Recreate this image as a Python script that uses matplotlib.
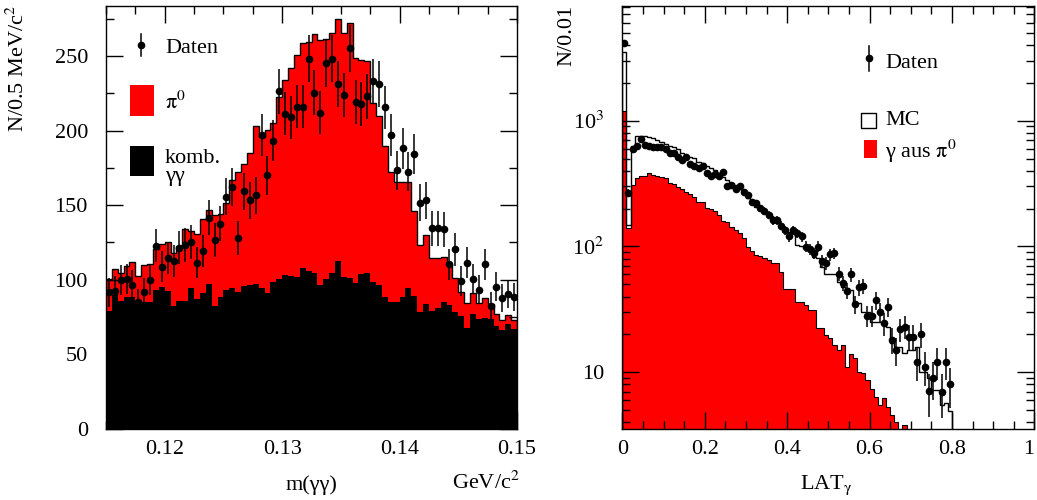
"""
pi0-Masse und LAT-Verteilung: Daten gegen MC (ROOT-Stil nachgebaut).
"""

import numpy as np
import matplotlib
matplotlib.use('Agg')
import matplotlib.pyplot as plt
from matplotlib.patches import Rectangle
from matplotlib.ticker import MultipleLocator, FixedLocator, FixedFormatter, LogLocator, NullFormatter

plt.rcParams['font.family'] = ['Liberation Serif', 'DejaVu Serif']
plt.rcParams['mathtext.fontset'] = 'stix'

# --- linkes Bild: m(gg) von 0.115 bis 0.150 GeV, 0.5 MeV Bins ---
m_lo, m_bin = 0.115, 0.0005
m_total = [100.8, 107.5, 104.4, 109.3, 112.0, 102.6, 110.0, 110.4, 120.4, 124.2,
           125.5, 117.8, 122.7, 133.8, 132.7, 130.4, 140.5, 146.5, 143.1, 144.2,
           151.6, 167.2, 172.0, 177.6, 185.0, 202.8, 195.4, 200.1, 205.0, 222.4,
           234.0, 241.7, 250.6, 258.9, 259.6, 264.5, 260.7, 261.1, 265.1, 274.5,
           265.1, 272.2, 248.9, 247.3, 246.6, 218.4, 209.9, 189.9, 172.0, 165.4,
           165.4, 165.4, 146.0, 123.3, 130.0, 114.4, 114.9, 115.5, 110.4, 101.5,
           91.5, 84.4, 91.0, 84.4, 87.7, 83.7, 77.0, 73.2, 76.4, 73.2]
m_comb = [79.0, 89.7, 85.9, 88.8, 88.8, 83.7, 84.8, 84.8, 93.0, 95.3,
          92.6, 82.6, 85.9, 85.9, 94.2, 87.0, 91.0, 97.0, 82.6, 88.2,
          93.0, 94.2, 91.5, 95.9, 96.6, 97.0, 94.6, 91.0, 98.6, 100.8,
          103.5, 102.6, 102.2, 108.2, 106.0, 104.4, 96.8, 100.8, 104.4, 112.6,
          102.2, 101.5, 97.7, 103.7, 104.8, 98.2, 96.8, 88.6, 84.8, 85.3,
          88.2, 94.8, 89.3, 78.6, 83.7, 79.2, 80.8, 84.8, 83.0, 78.1,
          75.9, 67.4, 77.0, 73.7, 74.3, 73.7, 68.8, 66.3, 70.3, 67.0]
m_data = [91.5, 92.6, 99.7, 100.4, 96.6, 84.8, 91.5, 99.7, 122.7, 108.9,
          114.6, 112.6, 121.5, 123.3, 125.3, 111.5, 119.3, 141.6, 126.7, 137.6,
          155.6, 162.5, 127.8, 159.2, 153.4, 156.5, 197.2, 170.1, 193.2, 226.2,
          211.3, 209.0, 216.1, 216.1, 248.0, 225.3, 212.1, 245.1, 248.0, 231.3,
          223.9, 255.1, 219.0, 218.1, 223.0, 233.0, 231.3, 215.5, 197.2, 173.4,
          188.3, 172.5, 184.3, 151.6, 153.4, 134.5, 134.5, 133.8, 110.4, 120.4,
          99.3, 111.5, 100.4, 93.3, 110.4, 82.6, 95.5, 87.7, 90.4, 88.6]

# --- rechtes Bild: LAT_gamma, Bins 0.01 ---
lat_bin = 0.01
lat_mc = [3490, 147, 633, 756, 756, 756, 746, 732, 702, 681,
          653, 629, 622, 595, 550, 533, 517, 502, 472, 458,
          439, 418, 405, 381, 359, 338, 322, 308, 285, 268,
          241, 227, 207, 197, 189, 178, 170, 158, 151, 139,
          131, 127, 103, 101, 96.7, 92.7, 83, 80.5, 69.1, 60.5,
          60.5, 60.5, 52.5, 48, 46.5, 45.1, 36.4, 35.3, 30.3, 30.3,
          25.3, 25.3, 25.3, 24, 23, 17, 16, 16, 14.3, 15,
          15, 15.8, 10.1, 10, 9, 7.2, 7.2, 5.5, 5.7, 4.9]
lat_pi0 = [1194, 140, 308, 352, 363, 363, 381, 370, 363, 359,
           348, 322, 312, 299, 286, 273, 261, 249, 227, 227,
           201, 197, 193, 178, 158, 155, 144, 135, 129, 116,
           99.7, 92.7, 85.6, 84, 80.5, 78, 73.5, 73.5, 63.1, 45.7,
           45.7, 45.7, 36.4, 36.4, 34.3, 31.3, 31.3, 22.4, 22.4, 19.8,
           18.6, 16.5, 15, 16.5, 11, 14, 13, 10, 9.8, 8.6,
           7.3, 6.4, 5.5, 6.2, 5.3, 4.6, 4.0, 0, 3.8]
lat_data = [4118, 268, 592, 633, 711, 641, 629, 614, 614, 622,
            595, 557, 550, 517, 487, 517, 452, 436, 418, 439,
            382, 366, 375, 366, 391, 303, 308, 285, 303, 269,
            257, 224, 220, 201, 193, 178, 162, 162, 146, 134,
            120, 135, 127, 120, 99.7, 95, 88.3, 99.7, 76.7, 73.5,
            86.6, 88.3, 60.5, 51, 44.6, 60.1, 34.7, 47.4, 48.6, 28.2,
            28.2, 37.6, 30, 24.5, 33.3, 18.1, 15, 22, 23.1, 19.2,
            19.2, 12, 20.1, 11.1, 7.1, 9, 12.1, 7, 12.1, 8]

FS = 16
W, H = 1037, 500


def style_axes(ax):
    ax.tick_params(which='both', direction='in', top=True, right=True,
                   labelsize=FS, width=1)
    ax.tick_params(which='major', length=12)
    ax.tick_params(which='minor', length=6)
    for s in ax.spines.values():
        s.set_linewidth(1)


def legend_marker(ax, x, y, dy):
    ax.plot([x, x], [y - dy, y + dy], color='k', lw=1.1, transform=ax.transAxes)
    ax.plot([x], [y], 'o', color='k', ms=4.5, transform=ax.transAxes)


fig = plt.figure(figsize=(W / 100, H / 100), dpi=100)

# ---------------- links ----------------
ax1 = fig.add_axes([106 / W, 71 / H, 411 / W, 423 / H])
m_edges = m_lo + np.arange(len(m_total) + 1) * m_bin
m_centers = 0.5 * (m_edges[:-1] + m_edges[1:])
ax1.stairs(m_total, m_edges, fill=True, color='#ff0000', lw=0)
ax1.stairs(m_comb, m_edges, fill=True, color='black', lw=0)
ax1.stairs(m_total, m_edges, color='black', lw=1.0)
ax1.errorbar(m_centers, m_data, yerr=np.sqrt(m_data), fmt='o', ms=4.5,
             color='black', elinewidth=1.1, capsize=0)
ax1.set_xlim(0.115, 0.150)
ax1.set_ylim(0, 283.5)
ax1.xaxis.set_major_locator(MultipleLocator(0.01))
ax1.xaxis.set_minor_locator(MultipleLocator(0.0025))
ax1.yaxis.set_major_locator(MultipleLocator(50))
ax1.yaxis.set_minor_locator(MultipleLocator(25))
ax1.xaxis.set_major_formatter(matplotlib.ticker.FormatStrFormatter('%.2f'))
style_axes(ax1)
ax1.tick_params(axis='y', which='major', pad=13)
ax1.tick_params(axis='x', which='major', pad=8)

legend_marker(ax1, 0.085, 0.908, 0.026)
ax1.text(0.1436, 0.900, 'Daten', transform=ax1.transAxes, va='center', fontsize=FS)
ax1.add_patch(Rectangle((0.0584, 0.7407), 0.0584, 0.0725, transform=ax1.transAxes,
                        color='#ff0000', lw=0))
ax1.text(0.1428, 0.771, r'$\mathrm{\pi}^0$', transform=ax1.transAxes, va='center', fontsize=FS)
ax1.add_patch(Rectangle((0.0584, 0.599), 0.0584, 0.070, transform=ax1.transAxes,
                        color='black', lw=0))
ax1.text(0.1428, 0.640, 'komb.', transform=ax1.transAxes, va='center', fontsize=FS)
ax1.text(0.1428, 0.598, 'γγ', transform=ax1.transAxes, va='center', fontsize=FS)

fig.text(18 / W, 0.99, r'N/0.5 MeV/c$^2$', rotation=90, ha='center', va='top', fontsize=FS)
fig.text(311 / W, 1 - 485 / H, 'm(γγ)', ha='center', va='center', fontsize=FS)
fig.text(486 / W, 1 - 483 / H, r'GeV/c$^2$', ha='center', va='center', fontsize=FS)

# ---------------- rechts ----------------
ax2 = fig.add_axes([622.3 / W, 70.7 / H, 412 / W, 423.3 / H])
base = 0.1
mc_edges = np.arange(len(lat_mc) + 1) * lat_bin
pi_edges = np.arange(len(lat_pi0) + 1) * lat_bin
d_centers = (np.arange(len(lat_data)) + 0.5) * lat_bin
pi_vals = np.clip(lat_pi0, base, None)
ax2.stairs(pi_vals, pi_edges, baseline=base, fill=True, color='#ff0000', lw=0)
ax2.stairs(pi_vals, pi_edges, baseline=base, color='black', lw=0.8)
ax2.stairs(lat_mc, mc_edges, baseline=base, color='black', lw=1.0)
ax2.errorbar(d_centers, lat_data, yerr=np.sqrt(lat_data), fmt='o', ms=4.5,
             color='black', elinewidth=1.1, capsize=0)
ax2.set_yscale('log')
ax2.set_xlim(0, 1)
ax2.set_ylim(3.52, 8150)
ax2.xaxis.set_major_locator(MultipleLocator(0.2))
ax2.xaxis.set_minor_locator(MultipleLocator(0.05))
# die "1" am rechten Rand wird unten von Hand gesetzt, sonst wird sie abgeschnitten
ax2.xaxis.set_major_formatter(matplotlib.ticker.FuncFormatter(
    lambda v, p: '0' if abs(v) < 1e-9 else ('' if abs(v - 1) < 1e-9 else '%.1f' % v)))
ax2.yaxis.set_major_locator(FixedLocator([10, 100, 1000]))
ax2.yaxis.set_major_formatter(FixedFormatter(['10', r'10$^2$', r'10$^3$']))
ax2.yaxis.set_minor_locator(LogLocator(base=10, subs=np.arange(2, 10)))
ax2.yaxis.set_minor_formatter(NullFormatter())
style_axes(ax2)
ax2.tick_params(axis='y', which='major', pad=13)
ax2.tick_params(axis='x', which='major', pad=8)

legend_marker(ax2, 0.598, 0.8765, 0.0295)
ax2.text(0.6376, 0.8646, 'Daten', transform=ax2.transAxes, va='center', fontsize=FS)
ax2.add_patch(Rectangle((0.5786, 0.711), 0.0364, 0.0355, transform=ax2.transAxes,
                        facecolor='white', edgecolor='black', lw=1))
ax2.text(0.6376, 0.729, 'MC', transform=ax2.transAxes, va='center', fontsize=FS)
ax2.add_patch(Rectangle((0.5867, 0.640), 0.0308, 0.043, transform=ax2.transAxes,
                        color='#ff0000', lw=0))
ax2.text(0.6376, 0.656, r'γ aus $\mathrm{\pi}^0$', transform=ax2.transAxes, va='center', fontsize=FS)

fig.text(1029 / W, 1 - 449 / H, '1', ha='center', va='center', fontsize=FS)
fig.text(567 / W, 0.99, 'N/0.01', rotation=90, ha='center', va='top', fontsize=FS)
fig.text(826 / W, 1 - 485 / H, r'LAT$_{\mathrm{\gamma}}$', ha='center', va='center', fontsize=FS)

fig.savefig('out.png', dpi=100)
